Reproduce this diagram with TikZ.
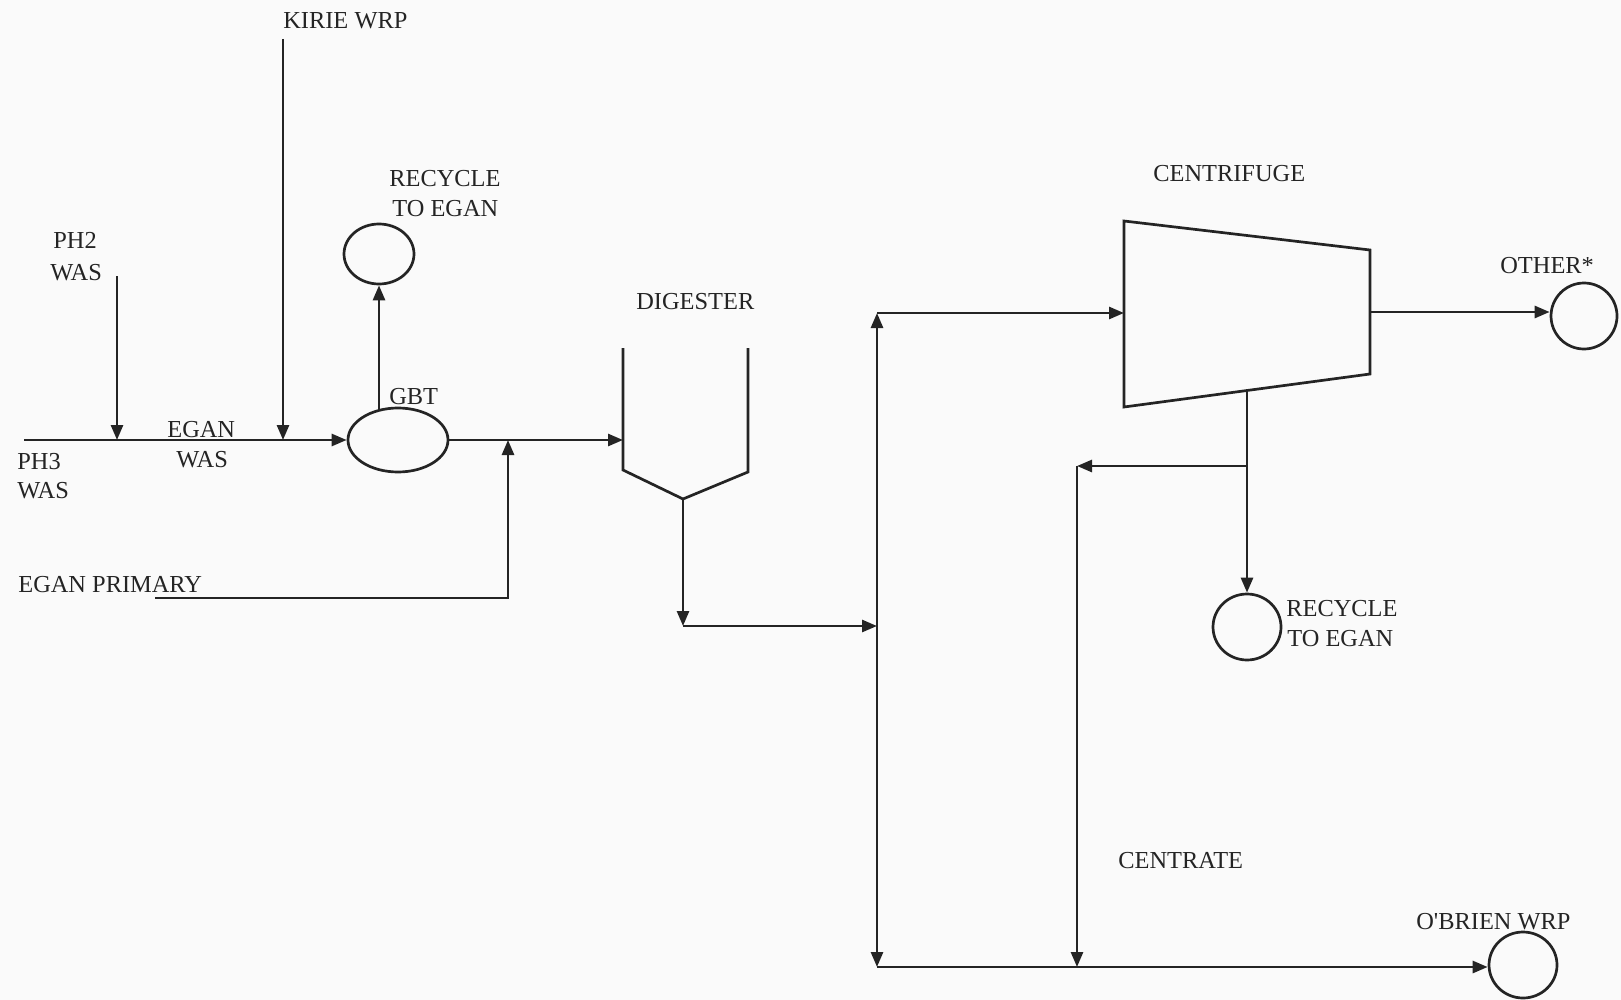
\documentclass[tikz,border=0pt]{standalone}
\usepackage{fontspec}
\setmainfont{Liberation Serif}[Ligatures=TeXOff]
\usetikzlibrary{arrows.meta,shapes.geometric}
\definecolor{ink}{RGB}{36,36,36}
\definecolor{paper}{RGB}{250,250,250}
\begin{document}
\begin{tikzpicture}[x=1pt,y=-1pt,
  line width=2.7pt, draw=ink, text=ink,
  flow/.style={-{Triangle[length=15pt,width=12pt]}, line width=2.7pt, draw=ink},
  lbl/.style={anchor=base west, inner sep=0pt, font=\fontsize{24.4}{29}\selectfont, text=ink},
  ball/.style={draw=ink, line width=2.7pt, ellipse, inner sep=0pt}
]
\useasboundingbox[fill=paper] (0,0) rectangle (1621,1000);

% --- labels
\node[lbl] (tkirie) at (282,29) {KIRIE WRP};
\node[lbl] (trc1a) at (388,187) {RECYCLE};
\node[lbl] (trc1b) at (391,217) {TO EGAN};
\node[lbl] (tph2a) at (52,249) {PH2};
\node[lbl] (tph2b) at (49,280) {WAS};
\node[lbl] (tegana) at (166,437) {EGAN};
\node[lbl] (teganb) at (175,467) {WAS};
\node[lbl] (tph3a) at (16,469) {PH3};
\node[lbl] (tph3b) at (16,498) {WAS};
\node[lbl] (tgbt) at (388,404) {GBT};
\node[lbl] (tdig) at (635,309) {DIGESTER};
\node[lbl] (tprim) at (17,592) {EGAN PRIMARY};
\node[lbl] (tcen) at (1152,182) {CENTRIFUGE};
\node[lbl] (toth) at (1499,273) {OTHER*};
\node[lbl] (trc2a) at (1285,616) {RECYCLE};
\node[lbl] (trc2b) at (1286,646) {TO EGAN};
\node[lbl] (tcentrate) at (1117,868) {CENTRATE};
\node[lbl] (tob) at (1415,929) {O'BRIEN WRP};

% --- units
\node[ball, minimum width=100pt, minimum height=64pt] (gbt) at (398,440) {};
\node[ball, minimum width=70pt, minimum height=60pt] (rc1) at (379,254) {};
\node[ball, minimum width=66pt, minimum height=66pt] (other) at (1584,316) {};
\node[ball, minimum width=68pt, minimum height=66pt] (rc2) at (1247,627) {};
\node[ball, minimum width=68pt, minimum height=66pt] (obrien) at (1523,965) {};

% digester
\coordinate (digtl) at (623,348);
\coordinate (digin) at (623,440);
\coordinate (digout) at (683,499);
\coordinate (digtr) at (748,348);
\draw[line join=miter] (digtl) -- (623,470) -- (digout) -- (748,472) -- (digtr);

% centrifuge
\coordinate (cin) at (1124,313);
\coordinate (cout) at (1370,312);
\coordinate (cbot) at (1247,391);
\draw[line join=miter] (1124,221) -- (1370,250) -- (1370,374) -- (1124,407) -- cycle;

% --- coordinates for free ends and junctions
\coordinate (ph3s) at (24,440);
\coordinate (ph2s) at (117,276);
\coordinate (ph2e) at (117,440);
\coordinate (kirs) at (283,39);
\coordinate (kire) at (283,440);
\coordinate (gbttop) at (379,410);
\coordinate (prims) at (155,598);
\coordinate (primc) at (508,598);
\coordinate (prime) at (508,440);
\coordinate (digdown) at (683,626);
\coordinate (vfeed) at (877,626);
\coordinate (vtop) at (877,313);
\coordinate (vbot) at (877,967);
\coordinate (branch) at (1247,466);
\coordinate (ctop) at (1077,466);
\coordinate (cbotl) at (1077,967);

% --- connectors
\draw[flow] (ph3s) -- (gbt.west);
\draw[flow] (ph2s) -- (ph2e);
\draw[flow] (kirs) -- (kire);
\draw[flow] (gbttop) -- (rc1.south);
\draw[flow] (gbt.east) -- (digin);
\draw[flow] (prims) -- (primc) -- (prime);
\draw[flow] (digout) -- (digdown);
\draw[flow] (digdown) -- (vfeed);
\draw[flow] (vfeed) -- (vtop);
\draw[flow] (vfeed) -- (vbot);
\draw[flow] (vtop) -- (cin);
\draw[flow] (cout) -- (cout -| other.west);
\draw[flow] (cbot) -- (rc2.north);
\draw[flow] (branch) -- (ctop);
\draw[flow] (ctop) -- (cbotl);
\draw[flow] (vbot) -- (vbot -| obrien.west);
\end{tikzpicture}
\end{document}
